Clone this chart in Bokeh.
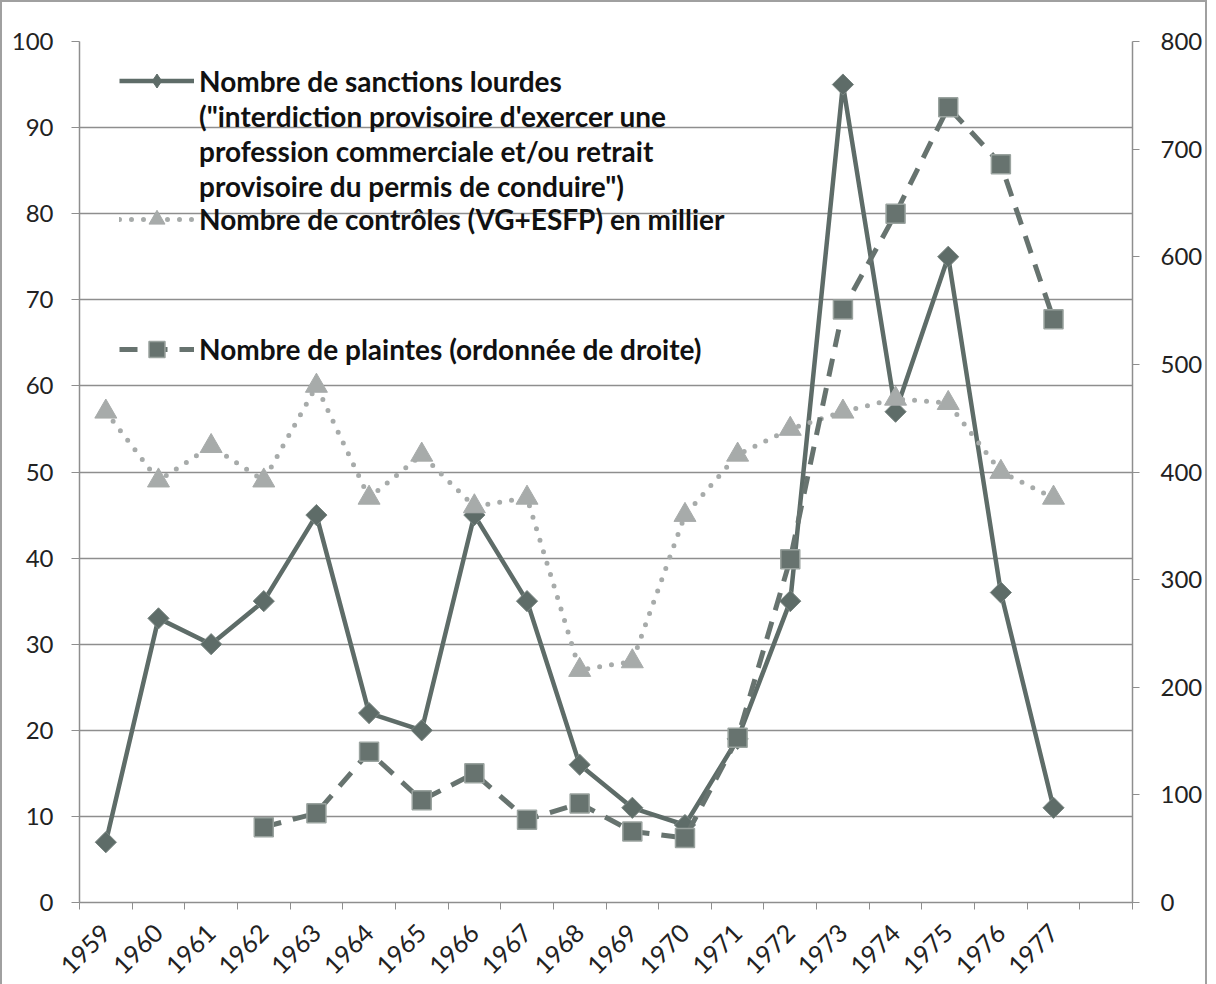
import numpy as np
from bokeh.plotting import figure
from bokeh.models import Range1d, LinearAxis, FixedTicker, Legend, LegendItem
from bokeh.embed import file_html
from bokeh.resources import INLINE

years = ["1959", "1960", "1961", "1962", "1963", "1964", "1965", "1966", "1967", "1968",
         "1969", "1970", "1971", "1972", "1973", "1974", "1975", "1976", "1977"]
sanctions = [7, 33, 30, 35, 45, 22, 20, 45, 35, 16, 11, 9, 19, 35, 95, 57, 75, 36, 11]
controles = [57, 49, 53, 49, 60, 47, 52, 46, 47, 27, 28, 45, 52, 55, 57, 58.5, 58, 50, 47]
plaintes = [np.nan, np.nan, np.nan, 70, 83, 140, 95, 120, 77, 92, 66, 60, 153, 319, 551, 640, 739, 686, 542]
left_ticks = list(range(0, 101, 10))
right_ticks = list(range(0, 801, 100))

legend_sanctions_lines = ["Nombre de sanctions lourdes",
                          "(\"interdiction provisoire d'exercer une",
                          "profession commerciale et/ou retrait",
                          "provisoire du permis de conduire\")"]
label_controles = "Nombre de contrôles (VG+ESFP) en millier"
label_plaintes = "Nombre de plaintes (ordonnée de droite)"

n_slots = len(years) + 1
xs = [i + 0.5 for i in range(len(years))]

DARK = "#5e6c68"
DARK2 = "#67736f"
LIGHT = "#a7abaa"
GRID = "#8e8e8e"
FONT = "Lato"

p = figure(width=1202, height=976, output_backend="svg", toolbar_location=None,
           x_range=Range1d(0, n_slots), y_range=Range1d(0, 100),
           min_border_left=77, min_border_right=72, min_border_top=39, min_border_bottom=76,
           frame_width=1053, frame_height=861)
p.styles = {"border": "2px solid #a0a0a0"}
p.outline_line_color = None
p.extra_y_ranges = {"right": Range1d(0, 800)}

# axes
p.xaxis.ticker = FixedTicker(ticks=xs, minor_ticks=list(range(0, n_slots + 1)))
p.xaxis.major_label_overrides = {x: y for x, y in zip(xs, years)}
p.xaxis.major_tick_in = 0
p.xaxis.major_tick_out = 0
p.xaxis.minor_tick_in = 0
p.xaxis.minor_tick_out = 7
p.xaxis.minor_tick_line_color = GRID
p.xaxis.axis_line_color = GRID
p.xaxis.axis_line_width = 1.5
p.xaxis.major_label_orientation = np.pi / 4
p.xaxis.major_label_text_font = FONT
p.xaxis.major_label_text_font_size = "25px"
p.xaxis.major_label_text_color = "#222222"
p.xaxis.major_label_standoff = 19

p.yaxis.ticker = FixedTicker(ticks=left_ticks)
p.yaxis.minor_tick_line_color = None
p.yaxis.major_tick_in = 0
p.yaxis.major_tick_out = 8
p.yaxis.major_tick_line_color = GRID
p.yaxis.axis_line_color = GRID
p.yaxis.axis_line_width = 1.5
p.yaxis.major_label_text_font = FONT
p.yaxis.major_label_text_font_size = "24px"
p.yaxis.major_label_text_color = "#222222"
p.yaxis.major_label_standoff = 18

ry = LinearAxis(y_range_name="right", ticker=FixedTicker(ticks=right_ticks))
ry.minor_tick_line_color = None
ry.major_tick_in = 0
ry.major_tick_out = 7
ry.major_tick_line_color = GRID
ry.axis_line_color = GRID
ry.axis_line_width = 1.5
ry.major_label_text_font = FONT
ry.major_label_text_font_size = "24px"
ry.major_label_text_color = "#222222"
ry.major_label_standoff = 21
p.add_layout(ry, "right")

p.xgrid.grid_line_color = None
p.ygrid.ticker = FixedTicker(ticks=left_ticks)
p.ygrid.grid_line_color = GRID
p.ygrid.grid_line_width = 1.5

# series
l1 = p.line(xs, sanctions, line_color=DARK, line_width=4.5)
m1 = p.scatter(xs, sanctions, marker="square", angle=np.pi / 4, size=15,
               fill_color=DARK, line_color="#7a8682", line_width=1)
# legend-only swatch (a single empty point, nothing drawn): diamond shape for the legend
m1_leg = p.scatter(x=[np.nan], y=[np.nan], marker="diamond", size=22, fill_color=DARK, line_color=DARK)

l2 = p.line(xs, controles, line_color=LIGHT, line_width=5, line_dash="0 12", line_cap="round")
m2 = p.scatter(xs, controles, marker="triangle", size=22, fill_color=LIGHT, line_color=LIGHT)

l3 = p.line(xs, plaintes, line_color=DARK2, line_width=5, line_dash="18 12", y_range_name="right")
m3 = p.scatter(xs, plaintes, marker="square", size=19, fill_color=DARK2, line_color="#9aa39f",
               line_width=1.5, y_range_name="right")


def style_legend(lg, glyph_h=40):
    lg.background_fill_alpha = 0
    lg.border_line_alpha = 0
    lg.label_text_font = FONT
    lg.label_text_font_style = "bold"
    lg.label_text_font_size = "28px"
    lg.label_text_color = "#111111"
    lg.glyph_width = 75
    lg.glyph_height = glyph_h
    lg.label_standoff = 5
    lg.padding = 0
    lg.margin = 0
    lg.spacing = 0
    return lg


items1 = [LegendItem(label=legend_sanctions_lines[0], renderers=[l1, m1_leg])]
items1 += [LegendItem(label=t, renderers=[]) for t in legend_sanctions_lines[1:]]
leg1 = style_legend(Legend(items=items1, location=(40, 699)), glyph_h=35)
leg2 = style_legend(Legend(items=[LegendItem(label=label_controles, renderers=[l2, m2])],
                           location=(40, 663)))
leg3 = style_legend(Legend(items=[LegendItem(label=label_plaintes, renderers=[l3, m3])],
                           location=(40, 533)))
for lg in (leg1, leg2, leg3):
    p.add_layout(lg, "center")

open("out.html", "w").write(file_html(p, INLINE))
